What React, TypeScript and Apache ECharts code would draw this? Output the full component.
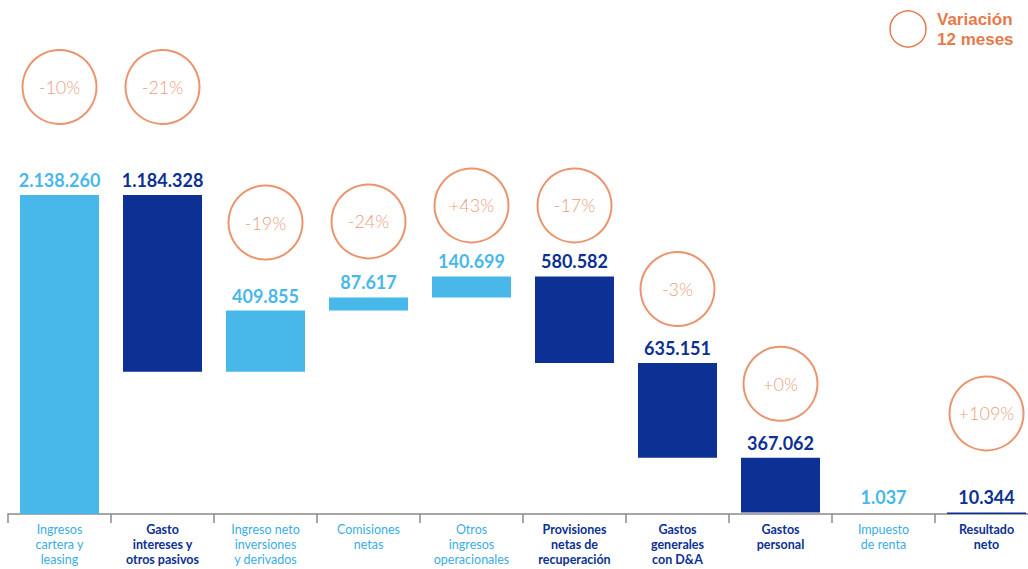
import React, { useEffect, useRef } from "react";
import * as echarts from "echarts";

const categories = [
  "Ingresos\ncartera y\nleasing",
  "Gasto\nintereses y\notros pasivos",
  "Ingreso neto\ninversiones\ny derivados",
  "Comisiones\nnetas",
  "Otros\ningresos\noperacionales",
  "Provisiones\nnetas de\nrecuperación",
  "Gastos\ngenerales\ncon D&A",
  "Gastos\npersonal",
  "Impuesto\nde renta",
  "Resultado\nneto",
];
// signed movements; last one is the total
const amounts = [2138260, -1184328, 409855, 87617, 140699, -580582, -635151, -367062, 1037, 10344];
const isTotal = [false, false, false, false, false, false, false, false, false, true];
const variation = ["-10%", "-21%", "-19%", "-24%", "+43%", "-17%", "-3%", "+0%", "", "+109%"];
const legendLines = ["Variación", "12 meses"];
// vertical pixel lift of each variation circle above its bar top (layout only)
const circleLift = [108, 108, 88, 76, 71, 71, 74, 74, 0, 99];

const LIGHT = "#48b8ea";
const LIGHT_TXT = "#3aade3";
const DARK = "#0c3093";
const ORANGE = "#e57a4c";
const FONT = "Lato, 'Open Sans', sans-serif";

const fmt = (v: number) => Math.round(v).toString().replace(/\B(?=(\d{3})+(?!\d))/g, ".");

export default function App() {
  const ref = useRef<HTMLDivElement>(null);
  useEffect(() => {
    if (!ref.current) return;
    const chart = echarts.init(ref.current, undefined, { renderer: "svg" });

    const base: number[] = [];
    const size: number[] = [];
    const tops: number[] = [];
    const dark: boolean[] = [];
    let cum = 0;
    amounts.forEach((a, i) => {
      if (isTotal[i]) {
        base.push(0);
        size.push(a);
        tops.push(a);
        dark.push(true);
        return;
      }
      if (a >= 0) {
        base.push(cum);
        size.push(a);
        cum += a;
        tops.push(cum);
        dark.push(false);
      } else {
        cum += a;
        base.push(cum);
        size.push(-a);
        tops.push(cum - a);
        dark.push(true);
      }
    });

    const catLabel = (v: string, i: number) => {
      const k = dark[i] ? "d" : "l";
      return v
        .split("\n")
        .map((s) => `{${k}|${s}}`)
        .join("\n");
    };

    chart.setOption({
      animation: false,
      grid: { left: 8, right: 2, top: 0, bottom: 55, containLabel: false },
      xAxis: {
        type: "category",
        data: categories,
        axisLine: { lineStyle: { color: "#8a8a8a", width: 1.5 } },
        axisTick: { show: true, interval: 0, length: 9, lineStyle: { color: "#8a8a8a", width: 1.5 } },
        axisLabel: {
          interval: 0,
          margin: 8,
          formatter: (v: string, i: number) => catLabel(v, i),
          rich: {
            l: { color: LIGHT_TXT, fontSize: 12.5, lineHeight: 15, fontFamily: FONT, fontWeight: "normal" },
            d: { color: DARK, fontSize: 12.5, lineHeight: 15, fontFamily: FONT, fontWeight: "bold" },
          },
        },
      },
      yAxis: { type: "value", min: 0, max: 3445000, show: false, splitLine: { show: false } },
      series: [
        {
          type: "bar",
          stack: "w",
          data: base,
          itemStyle: { color: "transparent" },
          barWidth: 79,
          silent: true,
        },
        {
          type: "bar",
          stack: "w",
          barWidth: 79,
          data: size.map((s, i) => ({
            value: s,
            itemStyle: { color: dark[i] ? DARK : LIGHT },
            label: {
              show: true,
              position: "top",
              distance: 6,
              formatter: fmt(Math.abs(amounts[i])),
              color: dark[i] ? DARK : LIGHT,
              fontSize: 18,
              fontWeight: "bold",
              fontFamily: FONT,
            },
          })),
        },
        {
          type: "scatter",
          symbol: "circle",
          symbolSize: 74,
          z: 5,
          data: tops
            .map((t, i) => ({ i, t }))
            .filter(({ i }) => variation[i] !== "")
            .map(({ i, t }) => ({
              value: [i, t],
              symbolOffset: [0, -circleLift[i]],
              label: { show: true, formatter: variation[i] },
            })),
          itemStyle: { color: "rgba(255,255,255,0)", borderColor: ORANGE, borderWidth: 2 },
          label: {
            show: true,
            position: "inside",
            color: "#e2845a",
            fontSize: 18,
            fontWeight: 300,
            fontFamily: FONT,
          },
        },
      ],
      graphic: [
        {
          type: "circle",
          shape: { cx: 908, cy: 29, r: 18 },
          style: { fill: "none", stroke: ORANGE, lineWidth: 1.5 },
        },
        ...legendLines.map((t, k) => ({
          type: "text",
          x: 937,
          y: 19 + k * 20,
          style: {
            text: t,
            fill: ORANGE,
            font: `bold 17px 'Liberation Sans', Arial, sans-serif`,
            verticalAlign: "middle",
          },
        })),
      ],
    });
    return () => chart.dispose();
  }, []);
  return (
    <div style={{ position: "absolute", left: 0, top: 0, width: 1028, height: 569, overflow: "hidden", background: "#fff" }}>
      <div ref={ref} style={{ width: 1040, height: 569 }} />
    </div>
  );
}
